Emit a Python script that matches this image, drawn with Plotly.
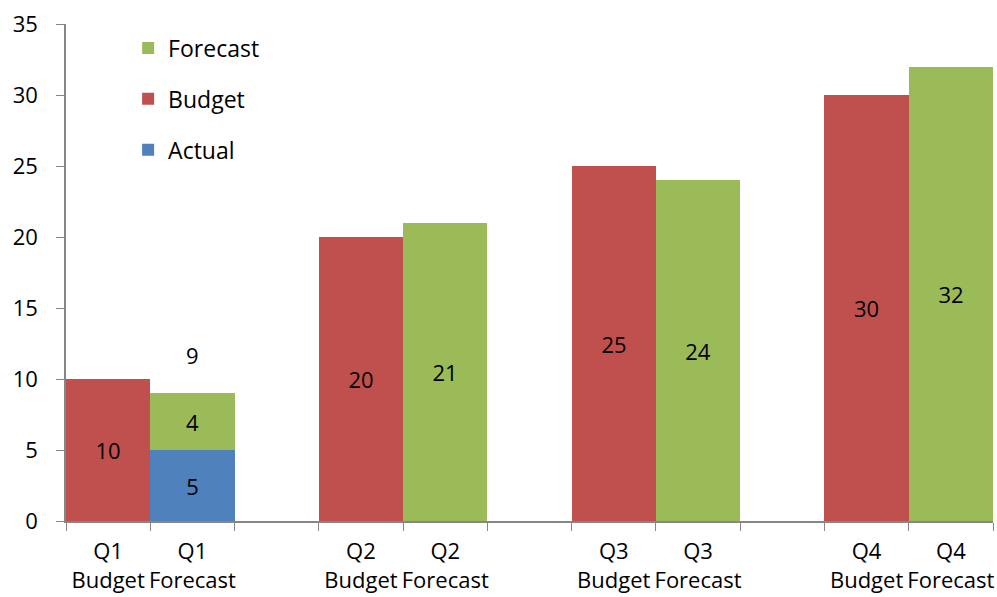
import plotly.graph_objects as go

categories = ["Q1<br>Budget", "Q1<br>Forecast", " ",
              "Q2<br>Budget", "Q2<br>Forecast", "  ",
              "Q3<br>Budget", "Q3<br>Forecast", "   ",
              "Q4<br>Budget", "Q4<br>Forecast"]
actual = [None, 5, None, None, None, None, None, None, None, None, None]
budget = [10, None, None, 20, None, None, 25, None, None, 30, None]
forecast = [None, 4, None, None, 21, None, None, 24, None, None, 32]
total_cat = ["Q1<br>Forecast"]
total_val = [9]

RED = "#C0504D"
GREEN = "#9BBB59"
BLUE = "#4F81BD"
AXIS = "#868686"
FONT = "Open Sans"

fig = go.Figure()
# stacking order: Actual at the bottom; legend shows Forecast on top
for name, vals, col, rank in [("Actual", actual, BLUE, 3), ("Budget", budget, RED, 2),
                              ("Forecast", forecast, GREEN, 1)]:
    fig.add_trace(go.Bar(
        x=categories, y=vals, name=name, legendgroup=name, legendrank=rank,
        marker=dict(color=col, line=dict(width=0)),
        text=[v if v is not None else "" for v in vals],
        textposition="inside", insidetextanchor="middle",
        textfont=dict(color="black", size=22, family=FONT),
    ))

for c, v in zip(total_cat, total_val):
    fig.add_annotation(x=c, y=v, text=str(v), showarrow=False, yshift=38,
                       font=dict(color="black", size=22, family=FONT))

fig.update_layout(
    barmode="stack", bargap=0,
    width=997, height=597,
    margin=dict(l=66, r=4, t=24, b=76),
    paper_bgcolor="white", plot_bgcolor="white",
    font=dict(family=FONT, size=22, color="black"),
    legend=dict(x=0.067, y=0.995, xanchor="left", yanchor="top",
                traceorder="grouped", tracegroupgap=18,
                font=dict(size=23, family=FONT), bgcolor="rgba(0,0,0,0)"),
)
fig.update_xaxes(type="category", categoryorder="array", categoryarray=categories,
                 showline=True, linecolor=AXIS, linewidth=1.5,
                 ticks="outside", tickson="boundaries", ticklen=8, tickcolor=AXIS,
                 tickangle=0, ticklabelstandoff=10,
                 showgrid=False, automargin=False, tickfont=dict(size=22))
fig.update_yaxes(range=[0, 35], dtick=5, showline=True, linecolor=AXIS, linewidth=1.5,
                 ticks="outside", ticklen=8, tickcolor=AXIS, showgrid=False,
                 ticklabelstandoff=14,
                 zeroline=False, automargin=False, tickfont=dict(size=22))

fig.write_html("out.html", config={"displayModeBar": False},
               post_script="document.body.style.margin='0';")
